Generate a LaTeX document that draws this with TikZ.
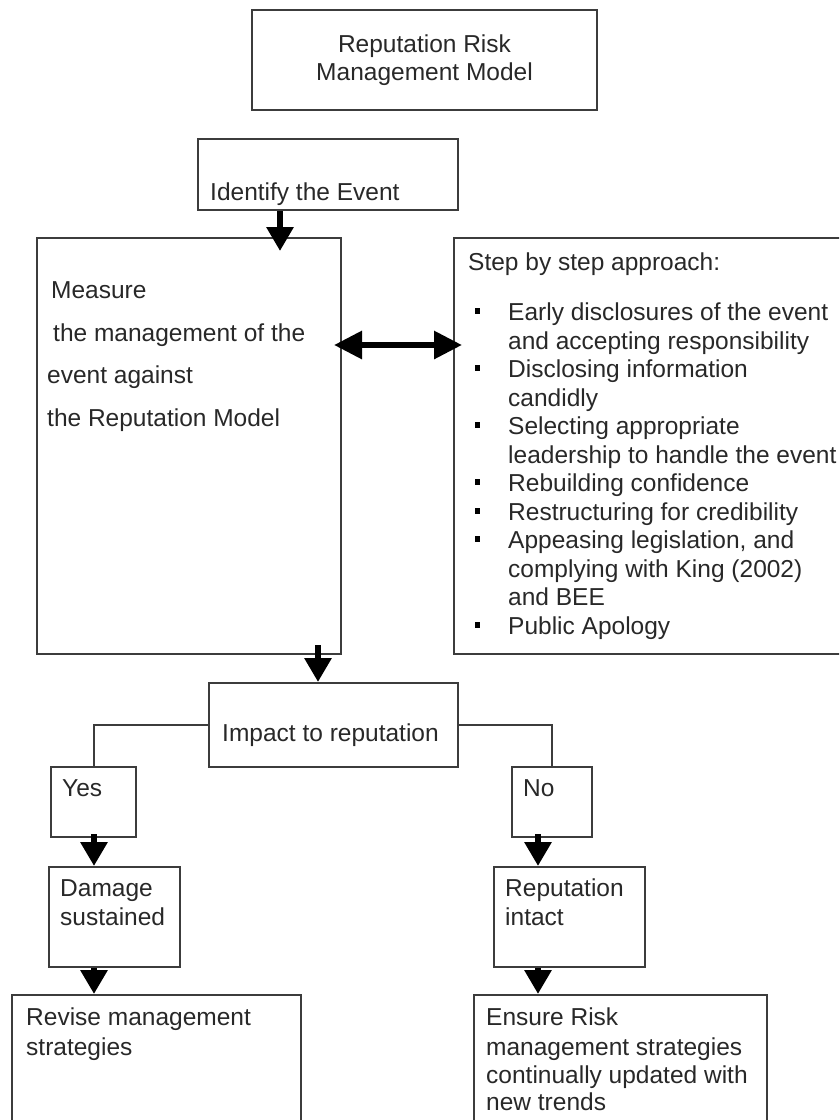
\documentclass[tikz,border=0pt]{standalone}
\usepackage{fontspec}
\setmainfont{Liberation Sans}
\usetikzlibrary{arrows.meta,positioning}
\definecolor{boxgray}{RGB}{60,60,60}
\definecolor{inkgray}{RGB}{40,40,40}
\tikzset{
  box/.style={rectangle,draw=boxgray,line width=2pt,inner sep=0pt},
  lbl/.style={anchor=base west,inner sep=0pt},
  bul/.style={rectangle,fill=black,minimum size=5.5pt,inner sep=0pt},
  flow/.style={-{Triangle[length=24pt,width=26pt]},line width=6pt,black},
  flowboth/.style={{Triangle[length=28pt,width=27pt]}-{Triangle[length=28pt,width=27pt]},line width=6pt,black},
  branch/.style={draw=boxgray,line width=2pt}
}
\begin{document}
\begin{tikzpicture}[x=1pt,y=-1pt,font=\fontsize{24.5pt}{28.5pt}\selectfont,text=inkgray]
  \useasboundingbox (0,0) rectangle (839,1120);
  \clip (0,0) rectangle (839,1120);

  % Title
  \node[box,minimum width=345pt,minimum height=100pt,align=center] (title) at (424.5,60) {Reputation Risk\\Management Model};

  % Identify the event
  \node[box,minimum width=260pt,minimum height=71pt] (ident) at (328,174.5) {};
  \node[lbl] (identtxt) at (210,200.5) {Identify the Event};

  % Measure against the model
  \node[box,minimum width=304pt,minimum height=416pt] (meas) at (189,446) {};
  \node[lbl] (meas1) at (51,298.5) {Measure};
  \node[lbl] (meas2) at (53,341.5) {the management of the};
  \node[lbl] (meas3) at (47,383.5) {event against};
  \node[lbl] (meas4) at (47,426.5) {the Reputation Model};

  % Step by step approach (box runs off the right edge)
  \node[box,minimum width=416pt,minimum height=416pt] (step) at (662,446) {};
  \node[lbl] (stephead) at (468,270.5) {Step by step approach:};
  \node[bul] (b1) at (477.5,311) {};
  \node[lbl] (s1) at (508,320.5) {Early disclosures of the event};
  \node[lbl] (s2) at (508,349) {and accepting responsibility};
  \node[bul] (b2) at (477.5,368) {};
  \node[lbl] (s3) at (508,377.5) {Disclosing information};
  \node[lbl] (s4) at (508,406) {candidly};
  \node[bul] (b3) at (477.5,425) {};
  \node[lbl] (s5) at (508,434.5) {Selecting appropriate};
  \node[lbl] (s6) at (508,463) {leadership to handle the event};
  \node[bul] (b4) at (477.5,482) {};
  \node[lbl] (s7) at (508,491.5) {Rebuilding confidence};
  \node[bul] (b5) at (477.5,511) {};
  \node[lbl] (s8) at (508,520) {Restructuring for credibility};
  \node[bul] (b6) at (477.5,539) {};
  \node[lbl] (s9) at (508,548.5) {Appeasing legislation, and};
  \node[lbl] (s10) at (508,577) {complying with King (2002)};
  \node[lbl] (s11) at (508,605.5) {and BEE};
  \node[bul] (b7) at (477.5,625) {};
  \node[lbl] (s12) at (508,634) {Public Apology};

  % Impact decision
  \node[box,minimum width=249pt,minimum height=84pt] (imp) at (333.5,725) {};
  \node[lbl] (imptxt) at (222,741.5) {Impact to reputation};
  \node[box,minimum width=85pt,minimum height=70pt] (yes) at (93.5,802) {};
  \node[lbl] (yestxt) at (62,796.5) {Yes};
  \node[box,minimum width=80pt,minimum height=70pt] (no) at (552,802) {};
  \node[lbl] (notxt) at (523,796.5) {No};

  % Outcomes
  \node[box,minimum width=131pt,minimum height=100pt] (dmg) at (114.5,917) {};
  \node[lbl] (dmg1) at (60,896.5) {Damage};
  \node[lbl] (dmg2) at (60,925.5) {sustained};
  \node[box,minimum width=151pt,minimum height=100pt] (rep) at (569.5,917) {};
  \node[lbl] (rep1) at (505,896.5) {Reputation};
  \node[lbl] (rep2) at (505,925.5) {intact};

  % Follow-up actions (boxes run off the bottom edge)
  \node[box,minimum width=289pt,minimum height=145pt] (rev) at (156.5,1067.5) {};
  \node[lbl] (rev1) at (26,1025.5) {Revise management};
  \node[lbl] (rev2) at (26,1055.5) {strategies};
  \node[box,minimum width=293pt,minimum height=145pt] (ens) at (620.5,1067.5) {};
  \node[lbl] (ens1) at (486,1025.5) {Ensure Risk};
  \node[lbl] (ens2) at (486,1055.5) {management strategies};
  \node[lbl] (ens3) at (486,1083.5) {continually updated with};
  \node[lbl] (ens4) at (486,1110.5) {new trends};

  % Connectors
  \draw[flow] ([xshift=-48pt]ident.south) -- ([xshift=91pt,yshift=-14pt]meas.north);
  \draw[flowboth] ([xshift=-8pt,yshift=101pt]meas.east) -- ([xshift=9pt,yshift=101pt]step.west);
  \draw[flow] ([xshift=129pt,yshift=10pt]meas.south) -- ([xshift=-15.5pt]imp.north);
  \draw[branch] (imp.west) -| (yes.north);
  \draw[branch] (imp.east) -| (no.north);
  \draw[flow] ([xshift=0.5pt,yshift=4pt]yes.south) -- ([xshift=-20.5pt]dmg.north);
  \draw[flow] ([xshift=-14pt,yshift=4pt]no.south) -- ([xshift=-31.5pt]rep.north);
  \draw[flow] ([xshift=-20.5pt]dmg.south) -- ([xshift=-62.5pt]rev.north);
  \draw[flow] ([xshift=-31.5pt]rep.south) -- ([xshift=-82.5pt]ens.north);
\end{tikzpicture}
\end{document}
